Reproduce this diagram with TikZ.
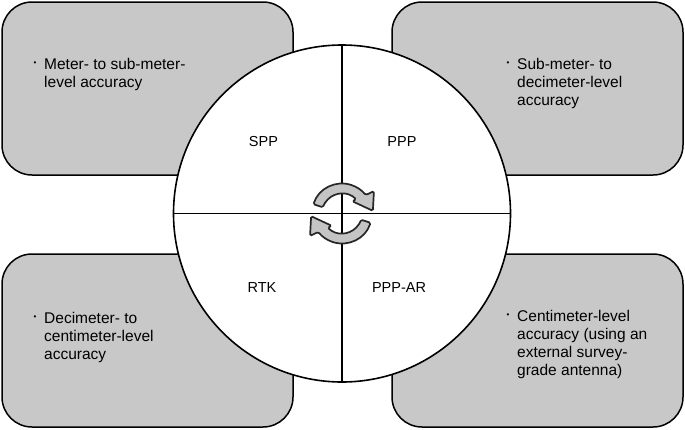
\documentclass[tikz,border=0pt]{standalone}
\usepackage{fontspec}
\setmainfont{Liberation Sans}
\usepackage{tikz}

\definecolor{panelgray}{RGB}{200,200,200}
\definecolor{arrowgray}{RGB}{196,196,196}

\tikzset{
  panel/.style={draw, line width=1.5pt, fill=panelgray, rounded corners=30pt,
    minimum width=291pt, minimum height=173pt, inner sep=0pt},
  blurb/.style={anchor=north west, align=left, inner sep=0pt,
    font=\fontsize{15.5}{18}\selectfont},
  dot/.style={inner sep=0pt, font=\fontsize{8}{8}\selectfont},
  quad/.style={inner sep=0pt, font=\fontsize{14.5}{17}\selectfont},
  turn/.style={line width=1.7pt, draw=black!85, fill=arrowgray, rounded corners=1.5pt}
}

\newcommand\turnarrow[1]{%
  \begin{scope}[shift={(wheel.center)}, rotate=#1]
    \filldraw[turn] (-162:30) arc[start angle=-162, end angle=-38, radius=30]
      -- (-35:39) -- (-5:31) -- (-50:16) -- (-45:20)
      arc[start angle=-45, end angle=-162, radius=20] -- cycle;
  \end{scope}}

\begin{document}
\begin{tikzpicture}[x=1pt, y=-1pt]
  \useasboundingbox (0,0) rectangle (685,429);

  % corner panels
  \node[panel] (tl) at (147.5, 88.5) {};
  \node[panel] (tr) at (537.5, 88.5) {};
  \node[panel] (bl) at (147.5, 340.5) {};
  \node[panel] (br) at (537.5, 340.5) {};

  % the wheel
  \node[circle, draw, line width=1.6pt, fill=white, inner sep=0pt,
    minimum size=337pt] (wheel) at (342, 213.5) {};
  \draw[line width=1.6pt] (wheel.north) -- (wheel.south);
  \draw[line width=1.6pt] (wheel.west) -- (wheel.east);

  \node[quad] (spp) at (263.5, 142) {SPP};
  \node[quad] (ppp) at (402, 142) {PPP};
  \node[quad] (rtk) at (262, 288) {RTK};
  \node[quad] (pppar) at (399, 288) {PPP-AR};

  \turnarrow{0}
  \turnarrow{180}

  % panel texts
  \node[blurb] (tltext) at (44, 58.5) {Meter- to sub-meter-\\level accuracy};
  \node[dot] (tldot) at (35, 64) {\textbullet};
  \node[blurb] (trtext) at (517, 58.5) {Sub-meter- to\\decimeter-level\\accuracy};
  \node[dot] (trdot) at (508, 64) {\textbullet};
  \node[blurb] (bltext) at (44, 312.5) {Decimeter- to\\centimeter-level\\accuracy};
  \node[dot] (bldot) at (35, 318) {\textbullet};
  \node[blurb] (brtext) at (517, 310.5) {Centimeter-level\\accuracy (using an\\external survey-\\grade antenna)};
  \node[dot] (brdot) at (508, 316) {\textbullet};
\end{tikzpicture}
\end{document}
